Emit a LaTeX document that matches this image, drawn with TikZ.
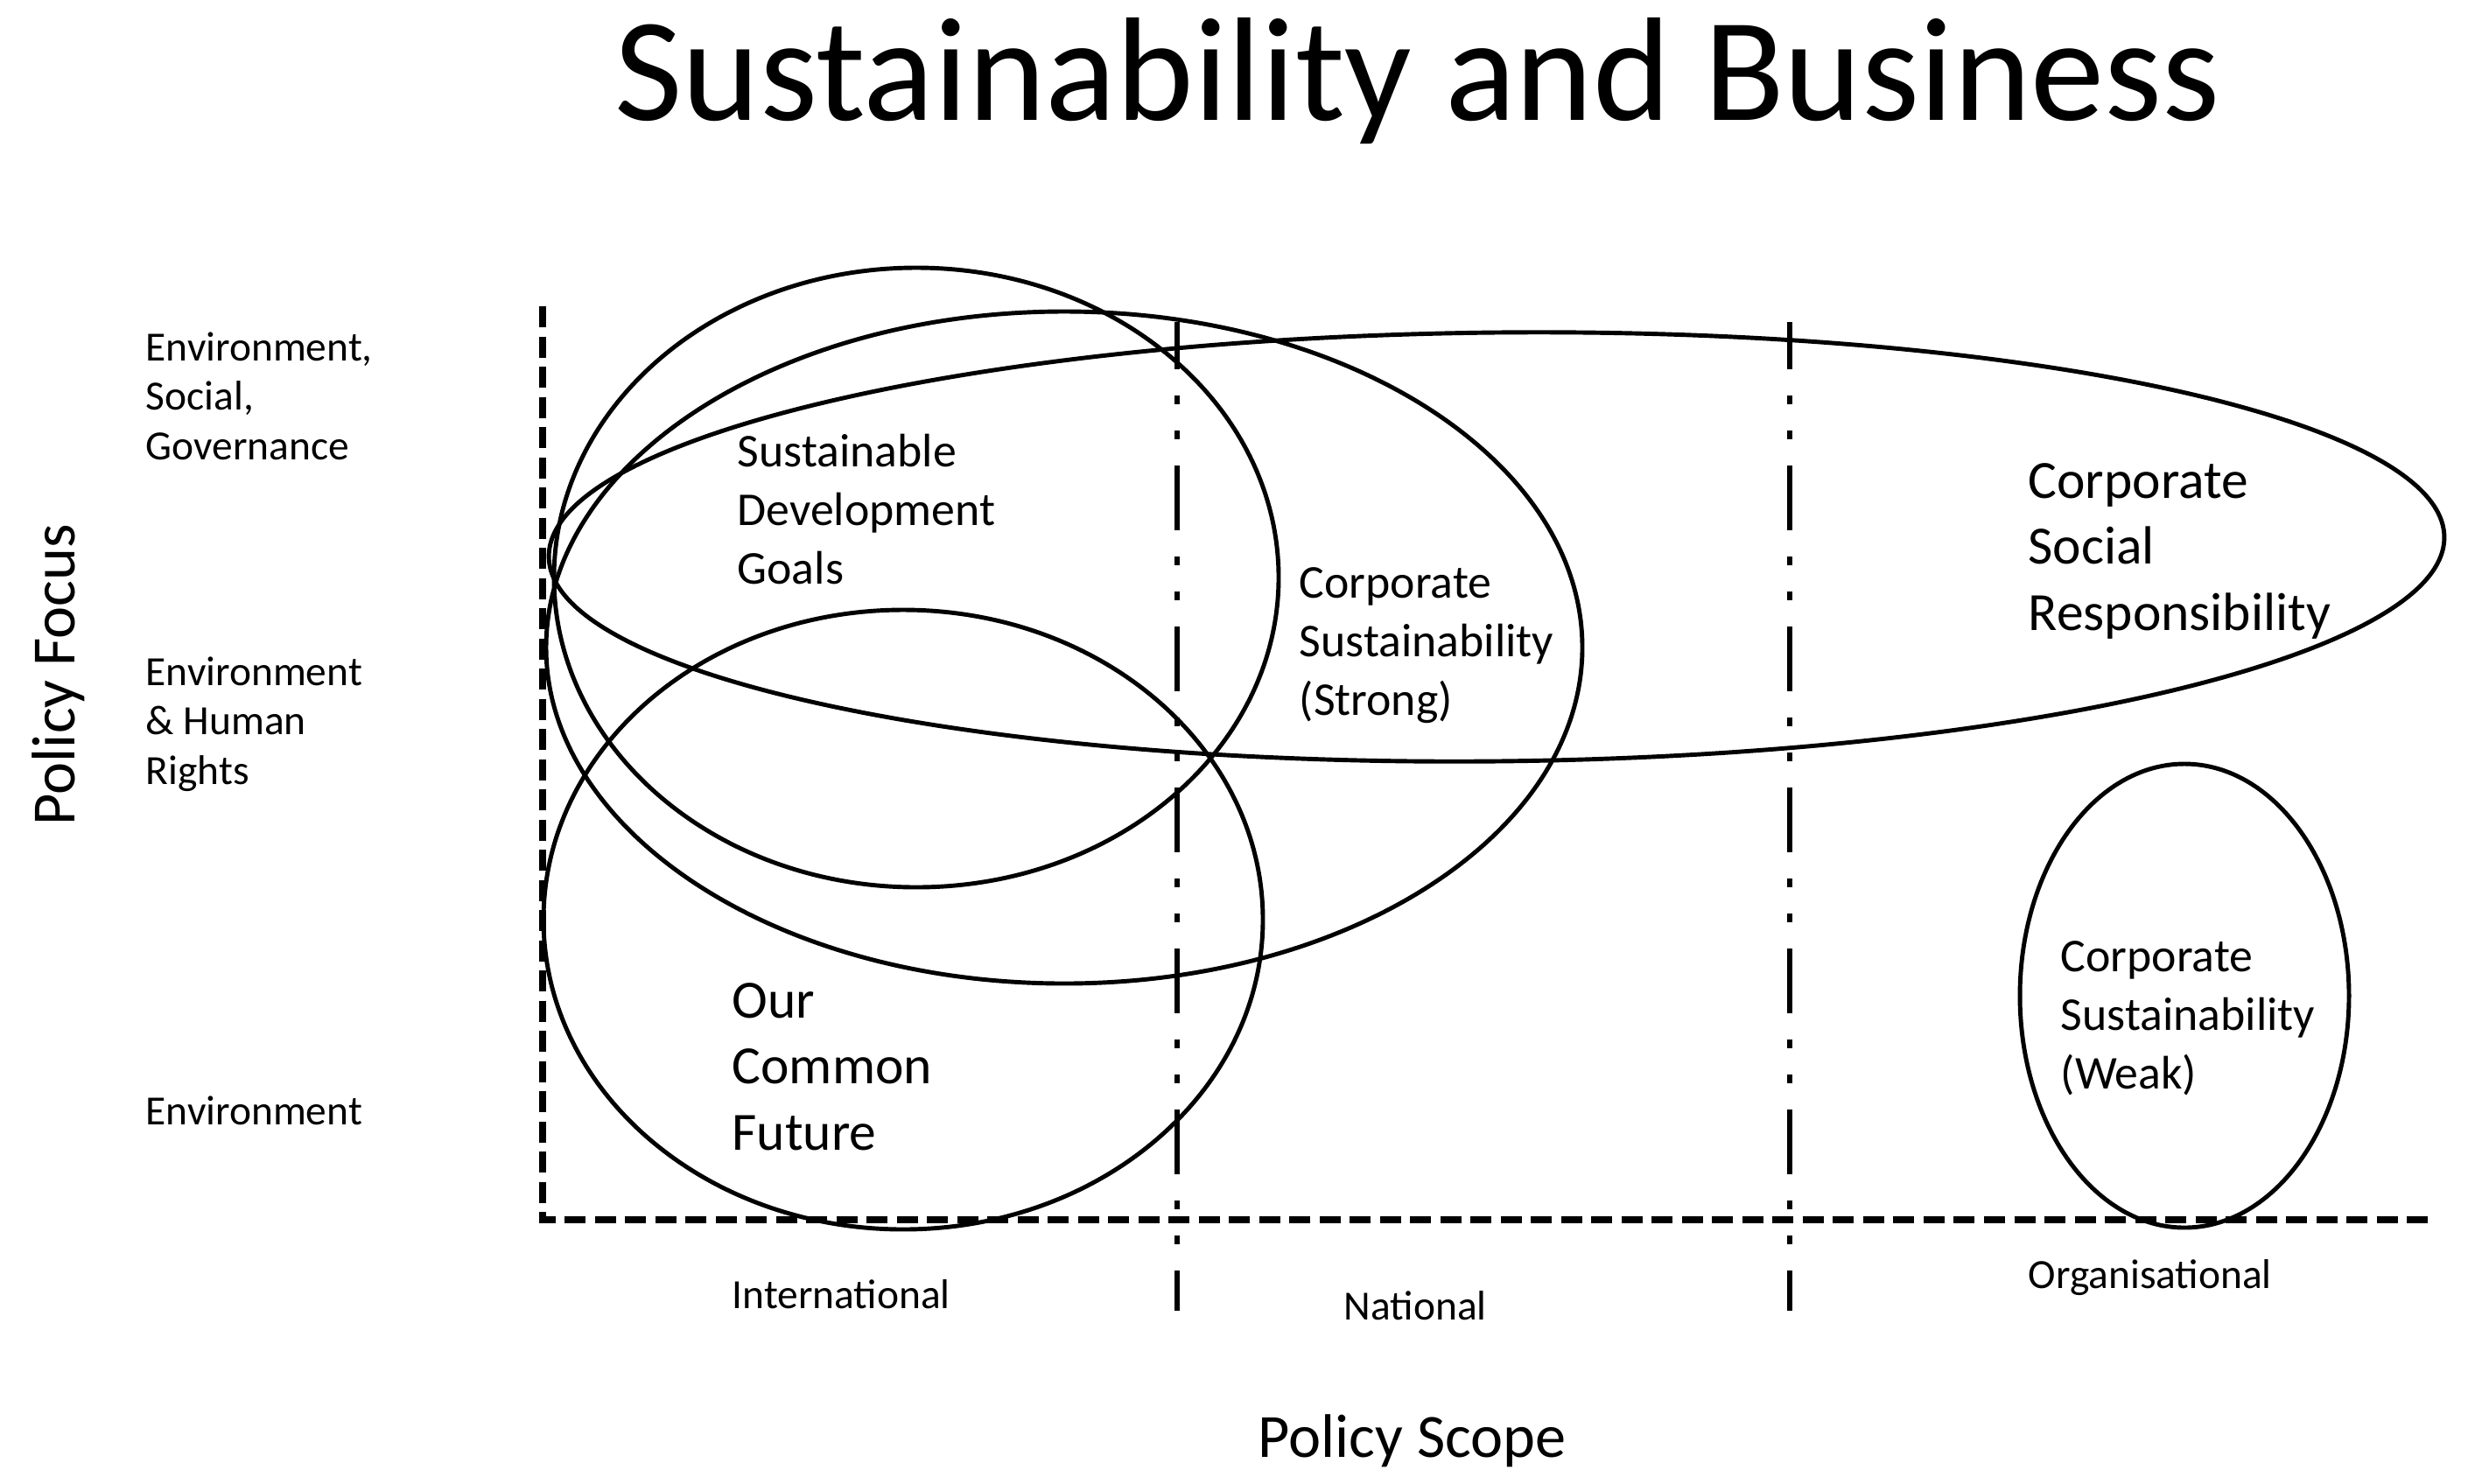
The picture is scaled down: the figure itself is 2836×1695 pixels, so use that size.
\documentclass[tikz,border=0pt]{standalone}
\usepackage{fontspec}
\setmainfont{Carlito}
\usetikzlibrary{positioning}
\tikzstyle{setshape} = [draw, line width=1.4pt]
\tikzstyle{axisline} = [line width=2.3pt, dash pattern=on 2.4mm off 1.05mm]
\tikzstyle{divider} = [line width=1.8pt, dash pattern=on 7.4mm off 3mm on 1mm off 3mm on 1mm off 3mm, dash phase=2mm]
\tikzstyle{txt} = [inner sep=0pt, align=left, anchor=base west]
\tikzstyle{heading} = [inner sep=0pt, anchor=base, font=\fontsize{48}{58}\selectfont]
\tikzstyle{levellabel} = [txt, font=\fontsize{13.5}{16}\selectfont]
\tikzstyle{setlabel} = [txt, font=\fontsize{15.3}{19}\selectfont]
\tikzstyle{setlabelbig} = [txt, font=\fontsize{17.5}{21.4}\selectfont]
\tikzstyle{axistitle} = [inner sep=0pt, font=\fontsize{20}{24}\selectfont]

\begin{document}
\begin{tikzpicture}[x=0.1mm, y=-0.1mm]
    \useasboundingbox (0,0) rectangle (2836,1695);
    \node[heading] (title) at (1620,137) {Sustainability and Business};

    % axes and scope dividers
    \coordinate (top) at (620,350);
    \coordinate (corner) at (620,1394);
    \coordinate (end) at (2776,1394);
    \draw[axisline] (top) -- (corner) -- (end);
    \coordinate (nat top) at (1345,368);
    \coordinate (nat bot) at (1345,1498);
    \coordinate (org top) at (2045,368);
    \coordinate (org bot) at (2045,1498);
    \draw[divider] (nat top) -- (nat bot);
    \draw[divider] (org top) -- (org bot);

    % sets
    \draw[setshape] (1047,660) ellipse [x radius=414, y radius=354];
    \draw[setshape] (1216,740) ellipse [x radius=592, y radius=384];
    \draw[setshape] (1710,625) ellipse [x radius=1083, y radius=245, rotate=0.6];
    \draw[setshape] (1032,1051) ellipse [x radius=411, y radius=354];
    \draw[setshape] (2496,1138) ellipse [x radius=188, y radius=265];

    % labels are placed by the baseline of their last line
    \node[setlabel] (sdg) at (842,667) {Sustainable\\Development\\Goals};
    \node[setlabel] (csstrong) at (1484,817) {Corporate\\Sustainability\\(Strong)};
    \node[setlabelbig] (csr) at (2317,720) {Corporate\\Social\\Responsibility};
    \node[setlabelbig] (ocf) at (836,1314) {Our\\Common\\Future};
    \node[setlabel] (csweak) at (2354,1244) {Corporate\\Sustainability\\(Weak)};

    % focus levels
    \node[levellabel] (esg) at (166,525) {Environment,\\Social,\\Governance};
    \node[levellabel] (ehr) at (166,896) {Environment\\\& Human\\Rights};
    \node[levellabel] (env) at (166,1285) {Environment};
    \node[axistitle, rotate=90, anchor=base] (focus) at (85,771) {Policy Focus};

    % scope levels
    \node[levellabel] (intl) at (836,1495) {International};
    \node[levellabel] (natl) at (1535,1508) {National};
    \node[levellabel] (orgl) at (2317,1472) {Organisational};
    \node[axistitle, anchor=base west] (scope) at (1437,1665) {Policy Scope};
\end{tikzpicture}
\end{document}
